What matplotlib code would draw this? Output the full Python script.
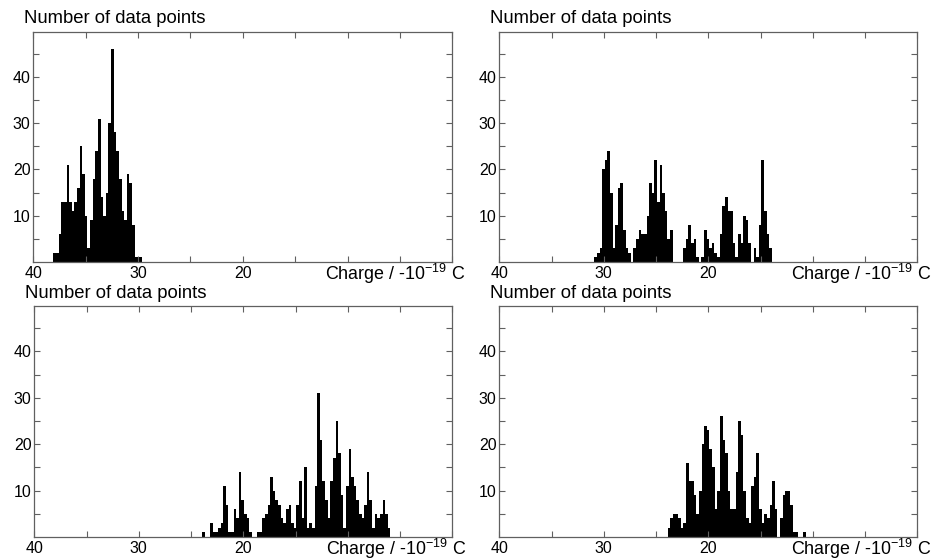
import numpy as np
import matplotlib.pyplot as plt

plt.rcParams['font.family'] = ['Liberation Sans', 'DejaVu Sans']
plt.rcParams['mathtext.default'] = 'regular'

bin_width = 0.25

# upper charge edge of the first (leftmost) bin, then counts going to lower charge
p1_start = 38.08
p1_counts = [2, 2, 6, 13, 13, 21, 13, 11, 13, 16, 25, 19, 10, 3, 9, 18, 24, 31, 14, 10,
             15, 30, 46, 28, 24, 18, 11, 9, 19, 17, 8, 1, 1, 1]

p2_start = 30.91
p2_counts = [1, 2, 3, 20, 22, 24, 15, 3, 8, 16, 17, 7, 3, 2, 0, 3, 5, 7, 6, 6,
             10, 17, 15, 22, 13, 21, 15, 11, 5, 7, 0, 0, 0, 0, 3, 5, 8, 4, 5, 1,
             0, 1, 7, 5, 3, 4, 2, 1, 6, 12, 14, 11, 11, 4, 1, 6, 4, 10, 9, 4,
             0, 3, 1, 8, 22, 11, 6, 3]

p3_start = 23.92
p3_counts = [1, 0, 0, 3, 1, 1, 2, 3, 11, 7, 1, 1, 6, 4, 14, 8, 5, 4, 1, 0,
             0, 1, 1, 4, 5, 7, 13, 10, 8, 7, 4, 3, 6, 7, 3, 2, 7, 12, 4, 15,
             2, 3, 2, 11, 31, 21, 12, 8, 4, 12, 17, 25, 18, 9, 2, 11, 19, 13, 11, 8,
             5, 4, 7, 14, 8, 2, 5, 4, 5, 8, 5, 2]

p4_start = 23.89
p4_counts = [2, 4, 5, 5, 4, 2, 3, 16, 12, 12, 9, 5, 10, 20, 24, 23, 19, 15, 6, 10,
             26, 21, 18, 10, 6, 6, 14, 25, 22, 10, 4, 3, 11, 13, 18, 6, 3, 5, 4, 7,
             12, 6, 0, 4, 9, 10, 10, 7, 1, 1, 0, 0, 1]

x_ticks = [40, 35, 30, 25, 20, 15, 10, 5, 0]
x_labels = ['40', '', '30', '', '20', '', '', '', '']
y_major = [10, 20, 30, 40]
y_minor = [5, 15, 25, 35, 45]

ylabel_text = 'Number of data points'
xlabel_text = 'Charge / -10$^{-19}$ C'

panels = [(p1_start, p1_counts), (p2_start, p2_counts),
          (p3_start, p3_counts), (p4_start, p4_counts)]
positions = [[0.0357, 0.5313, 0.4486, 0.4123],
             [0.5346, 0.5313, 0.4475, 0.4123],
             [0.0367, 0.0394, 0.4475, 0.4132],
             [0.5346, 0.0394, 0.4475, 0.4132]]

frame_col = '#606060'

fig = plt.figure(figsize=(9.34, 5.59), dpi=100)

for (start, counts), pos in zip(panels, positions):
  ax = fig.add_axes(pos)
  counts = np.array(counts)
  n = len(counts)
  low = start - bin_width * n
  edges = low + bin_width * np.arange(n + 1)
  ax.stairs(counts[::-1], edges, fill=True, color='black', linewidth=0)

  ax.set_xlim(40, 0)
  ax.set_ylim(0, 49.8)
  ax.set_xticks(x_ticks)
  ax.set_xticklabels(x_labels)
  ax.set_yticks(y_major)
  ax.set_yticks(y_minor, minor=True)
  ax.tick_params(which='both', direction='in', top=True, right=True,
                 length=4, width=0.8, color=frame_col, labelsize=11.5, pad=3)
  ax.tick_params(axis='y', pad=2)
  for s in ax.spines.values():
    s.set_color(frame_col)
    s.set_linewidth(0.9)

  ax.text(-0.022, 1.036, ylabel_text, transform=ax.transAxes, fontsize=13.3,
          ha='left', va='baseline')
  ax.text(0.697, -0.078, xlabel_text, transform=ax.transAxes, fontsize=12.9,
          ha='left', va='baseline')

fig.savefig('out.png', dpi=100)
